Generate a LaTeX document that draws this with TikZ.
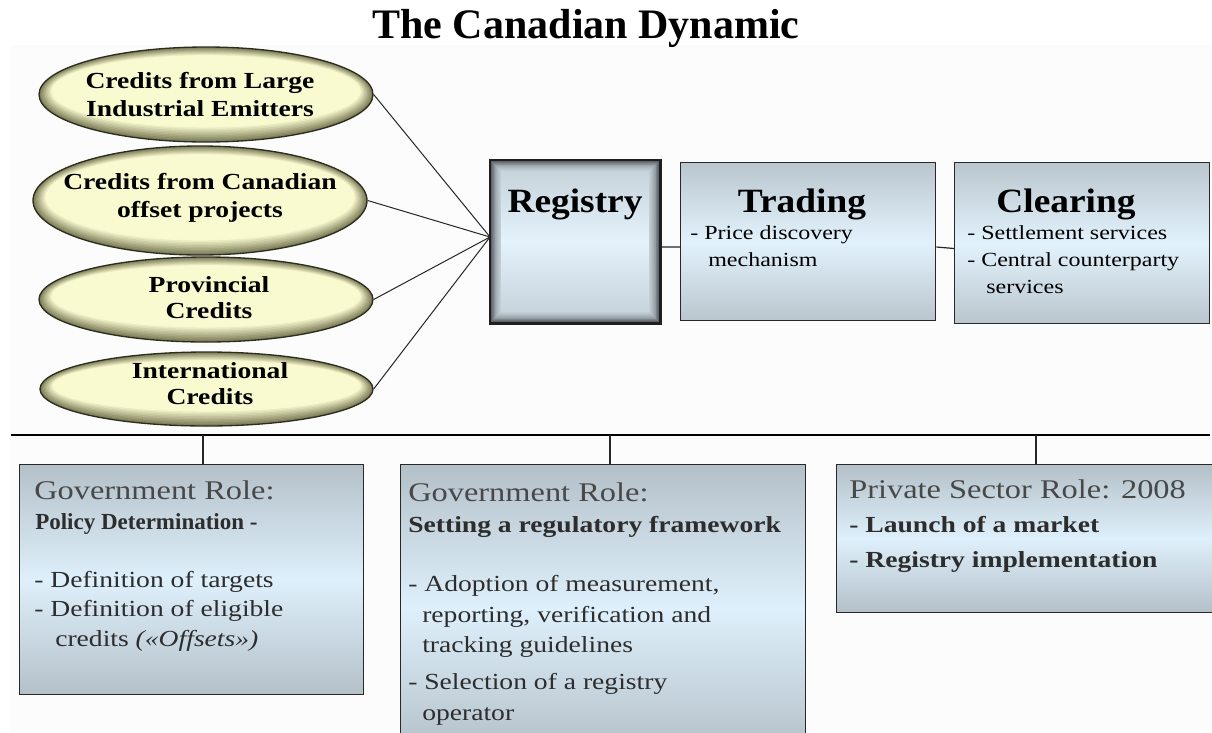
\documentclass[tikz,border=0pt]{standalone}
\usepackage{fontspec}
\setmainfont{Liberation Serif}
\newfontfamily\wideserif[FakeStretch=1.2]{Liberation Serif}
\newfontfamily\headserif[FakeStretch=1.1]{Liberation Serif}
\usetikzlibrary{shapes.geometric}

% colours
\definecolor{panelgray}{RGB}{252,252,252}
\definecolor{credlight}{RGB}{250,250,208}
\definecolor{crededge}{RGB}{128,128,92}
\definecolor{credline}{RGB}{45,45,30}
\definecolor{regcenter}{RGB}{228,242,252}
\definecolor{regmid}{RGB}{200,212,220}
\definecolor{regdark}{RGB}{50,52,54}
\definecolor{stagetop}{RGB}{186,198,206}
\definecolor{stagemid}{RGB}{226,242,252}
\definecolor{roletop}{RGB}{180,192,200}
\definecolor{rolemid}{RGB}{222,240,252}
\definecolor{boxline}{RGB}{40,40,40}
\definecolor{headgray}{RGB}{72,72,72}
\definecolor{bodygray}{RGB}{45,45,45}

% inner rings of an ellipse, lightening towards the centre;
% the rings drift upwards so the lower rim stays darker
% #1 centre x, #2 centre y, #3 x radius, #4 y radius
\newcommand\creditrings[4]{%
  \foreach \i in {1,...,10}{%
    \pgfmathtruncatemacro\pct{min(100,\i*11)}%
    \pgfmathsetmacro\rxi{#3-1.3*\i}%
    \pgfmathsetmacro\ryi{#4-1.2*\i}%
    \pgfmathsetmacro\cyi{#2-0.35*\i}%
    \fill[credlight!\pct!crededge] (#1,\cyi) ellipse [x radius=\rxi, y radius=\ryi];
  }}

% nested frames of the registry box, dark at the border, light inside
% #1 left, #2 top, #3 right, #4 bottom
\newcommand\registryframes[4]{%
  \foreach \i in {1,...,12}{%
    \pgfmathtruncatemacro\pct{round(100*sqrt(\i/12))}%
    \pgfmathsetmacro\d{0.9*\i}%
    \fill[regmid!\pct!regdark] (#1+\d,#2+\d) rectangle (#3-\d,#4-\d);
  }%
  \shade[top color=regmid, bottom color=regmid, middle color=regcenter]
    (#1+11.5,#2+11.5) rectangle (#3-11.5,#4-11.5);
}

\tikzset{
  credit/.style={ellipse, draw=credline, line width=1pt, fill=crededge, inner sep=0pt},
  credtext/.style={font=\wideserif\bfseries\fontsize{17.25}{21}\selectfont, align=center, inner sep=0pt},
  credtextb/.style={font=\wideserif\bfseries\fontsize{17.25}{19.5}\selectfont, align=center, inner sep=0pt},
  regbox/.style={rectangle, fill=regdark, inner sep=0pt, anchor=north west},
  regline/.style={draw=black!88, line width=2.2pt},
  stagebox/.style={rectangle, draw=boxline, line width=1pt, top color=stagetop, bottom color=stagetop, middle color=stagemid, inner sep=0pt, anchor=north west},
  rolebox/.style={rectangle, draw=boxline, line width=1pt, top color=roletop, bottom color=roletop, middle color=rolemid, inner sep=0pt, anchor=north west},
  stagetitle/.style={font=\headserif\bfseries\fontsize{25.5}{28}\selectfont, anchor=base, inner sep=0pt},
  stageitem/.style={font=\wideserif\fontsize{15}{18}\selectfont, anchor=base west, inner sep=0pt},
  rolehead/.style={font=\wideserif\fontsize{20.25}{24}\selectfont, text=headgray, anchor=base west, inner sep=0pt},
  rolebold/.style={font=\wideserif\bfseries\fontsize{17.25}{20}\selectfont, text=bodygray, anchor=base west, inner sep=0pt},
  roleitem/.style={font=\wideserif\fontsize{17.25}{20}\selectfont, text=bodygray, anchor=base west, inner sep=0pt},
  link/.style={draw=black!85, line width=0.75pt},
  bar/.style={draw=black, line width=2pt},
  drop/.style={draw=black!85, line width=0.9pt}
}

\begin{document}
\begin{tikzpicture}[x=0.75pt,y=-0.75pt]
\useasboundingbox (0,0) rectangle (1212,732);
\fill[white] (0,0) rectangle (1212,732);
\fill[panelgray] (10,45) rectangle (1212,732);

% heading
\node[font=\bfseries\fontsize{31.5}{36}\selectfont, anchor=base, inner sep=0pt] (title) at (586,38) {The Canadian Dynamic};

% credit sources
\node[credit, minimum width=250.5pt, minimum height=71.25pt] (e1) at (206,94.5) {};
\creditrings{206}{94.5}{166.5}{47}
\node[credit, minimum width=250.5pt, minimum height=81.75pt] (e2) at (200,200.5) {};
\creditrings{200}{200.5}{166.5}{54}
\node[credit, minimum width=250.5pt, minimum height=63.75pt] (e3) at (206,299.5) {};
\creditrings{206}{299.5}{166.5}{42}
\node[credit, minimum width=249.75pt, minimum height=55.5pt] (e4) at (206.5,389) {};
\creditrings{206.5}{389}{166}{36.5}
\node[credtext] (e1t) at (200,95) {Credits from Large\\Industrial Emitters};
\node[credtext] (e2t) at (200,198) {Credits from Canadian\\offset projects};
\node[credtextb] (e3t) at (209,298) {Provincial\\Credits};
\node[credtextb] (e4t) at (210,384) {International\\Credits};

% market stages
\node[regbox, minimum width=127.5pt, minimum height=122.25pt] (reg) at (490,160) {};
\registryframes{490}{160}{660}{323}
\draw[regline] (reg.north west) rectangle (reg.south east);
\node[stagebox, minimum width=191.25pt, minimum height=118.5pt] (trd) at (680,162) {};
\node[stagebox, minimum width=191.25pt, minimum height=120.75pt] (clr) at (954,162) {};

\node[stagetitle] (regt) at (575,212) {Registry};
\node[stagetitle] (trdt) at (802,212) {Trading};
\node[stagetitle] (clrt) at (1066,212) {Clearing};

\node[stageitem] (trd1) at (690,239) {- Price discovery};
\node[stageitem] (trd2) at (708,266) {mechanism};
\node[stageitem] (clr1) at (967,239) {- Settlement services};
\node[stageitem] (clr2) at (967,266) {- Central counterparty};
\node[stageitem] (clr3) at (986,293) {services};

% links into the registry and along the chain
\coordinate (hub) at (490,237);
\draw[link] (e1.east) -- (hub);
\draw[link] (e2.east) -- (hub);
\draw[link] (e3.east) -- (hub);
\draw[link] (e4.east) -- (hub);
\draw[drop] ([yshift=-4pt]reg.east) -- ([yshift=-4pt]trd.west);
\draw[drop] ([yshift=-4pt]trd.east) -- ([yshift=-4pt]clr.west);

% roles
\node[rolebox, minimum width=258pt, minimum height=172.5pt] (b1) at (19,464) {};
\node[rolebox, minimum width=303.75pt, minimum height=215pt] (b2) at (400,464) {};
\node[rolebox, minimum width=285pt, minimum height=111pt] (b3) at (836,464) {};

\coordinate (barL) at (11,435);
\coordinate (barR) at (1210,435);
\draw[bar] (barL) -- (barR);
\coordinate (d1) at (203,435);
\coordinate (d2) at (610,435);
\coordinate (d3) at (1036,435);
\draw[drop] (d1) -- (d1 |- b1.north);
\draw[drop] (d2) -- (d2 |- b2.north);
\draw[drop] (d3) -- (d3 |- b3.north);

\node[rolehead] (b1a) at (34,499) {Government Role:};
\node[rolebold, font=\bfseries\fontsize{17.25}{20}\selectfont] (b1b) at (35,529) {Policy Determination -};
\node[roleitem] (b1c) at (34,587) {- Definition of targets};
\node[roleitem] (b1d) at (34,616) {- Definition of eligible};
\node[roleitem] (b1e) at (55,646) {credits \textit{(«Offsets»)}};

\node[rolehead] (b2a) at (408,501) {Government Role:};
\node[rolebold] (b2b) at (408,532) {Setting a regulatory framework};
\node[roleitem] (b2c) at (408,591) {- Adoption of measurement,};
\node[roleitem] (b2d) at (422,622) {reporting, verification and};
\node[roleitem] (b2e) at (422,652) {tracking guidelines};
\node[roleitem] (b2f) at (408,689) {- Selection of a registry};
\node[roleitem] (b2g) at (422,720) {operator};

\node[rolehead] (b3a) at (849,498) {Private Sector Role: 2008};
\node[rolebold] (b3b) at (849,532) {- Launch of a market};
\node[rolebold] (b3c) at (849,567) {- Registry implementation};
\end{tikzpicture}
\end{document}
